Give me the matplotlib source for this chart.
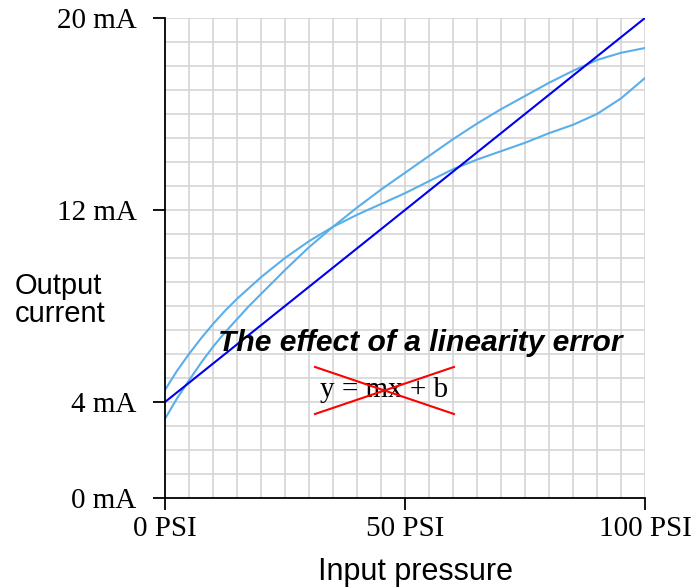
import numpy as np
import matplotlib
matplotlib.use("Agg")
import matplotlib.pyplot as plt

# input pressure (PSI) and the two measured output curves (mA)
psi = [0, 2.5, 5, 7.5, 10, 12.5, 15, 17.5, 20, 25, 30, 35, 40, 45, 50,
       55, 60, 65, 70, 75, 80, 85, 90, 95, 100]
curve_a = [4.5, 5.3, 6.0, 6.65, 7.25, 7.8, 8.3, 8.75, 9.2, 10.0, 10.7, 11.3,
           11.8, 12.25, 12.7, 13.2, 13.7, 14.1, 14.45, 14.8, 15.2, 15.55,
           16.0, 16.65, 17.5]
curve_b = [3.3, 4.15, 4.9, 5.63, 6.3, 6.9, 7.45, 8.0, 8.5, 9.5, 10.45, 11.3,
           12.1, 12.85, 13.55, 14.25, 14.95, 15.6, 16.2, 16.75, 17.3, 17.8,
           18.25, 18.55, 18.75]
ideal_x = [0, 100]
ideal_y = [4, 20]

xticks = [0, 50, 100]
xlabels = ["0 PSI", "50 PSI", "100 PSI"]
yticks = [0, 4, 12, 20]
ylabels = ["0 mA", "4 mA", "12 mA", "20 mA"]

serif = "Liberation Serif"
sans = "Liberation Sans"
fs = 21

fig = plt.figure(figsize=(6.92, 5.88), dpi=100)
W, H = 692, 588
ax = fig.add_axes([165 / W, (H - 498) / H, 480 / W, 480 / H])
ax.set_xlim(0, 100)
ax.set_ylim(0, 20)

# background grid
for gx in np.arange(5, 101, 5):
    ax.axvline(gx, color="#d2d2d2", lw=1.1, zorder=0)
for gy in np.arange(1, 21, 1):
    ax.axhline(gy, color="#d2d2d2", lw=1.1, zorder=0)

ax.plot(psi, curve_a, color="#5aaeea", lw=1.5, zorder=2)
ax.plot(psi, curve_b, color="#5aaeea", lw=1.5, zorder=2)
ax.plot(ideal_x, ideal_y, color="#0000ee", lw=1.5, zorder=3)

for s in ["top", "right"]:
    ax.spines[s].set_visible(False)
for s in ["left", "bottom"]:
    ax.spines[s].set_linewidth(1.3)
    ax.spines[s].set_color("black")
    ax.spines[s].set_zorder(4)

ax.set_xticks(xticks)
ax.set_xticklabels(xlabels, fontfamily=serif, fontsize=fs)
ax.set_yticks(yticks)
ax.set_yticklabels(ylabels, fontfamily=serif, fontsize=fs)
ax.tick_params(axis="both", direction="out", length=8.6, width=1.3, color="black")
ax.tick_params(axis="y", pad=12)
ax.tick_params(axis="x", pad=4)

ax.text(53.1, 6.45, "The effect of a linearity error", fontfamily=sans,
        fontsize=21.6, fontweight="bold", fontstyle="italic",
        ha="center", va="center", zorder=5)
ax.text(45.6, 4.5, "y = mx + b", fontfamily=serif, fontsize=fs,
        ha="center", va="center", zorder=5)
# crossed-out equation
ax.plot([31.25, 60.2], [5.46, 3.5], color="red", lw=1.5, zorder=6)
ax.plot([31.25, 60.2], [3.5, 5.46], color="red", lw=1.5, zorder=6)

fig.text(15 / W, 1 - 300 / H, "Output\ncurrent", fontfamily=sans, fontsize=fs,
         ha="left", va="center", linespacing=1.0)
fig.text(416 / W, 1 - 572 / H, "Input pressure", fontfamily=sans, fontsize=22,
         ha="center", va="center")

fig.savefig("out.png", dpi=100)
